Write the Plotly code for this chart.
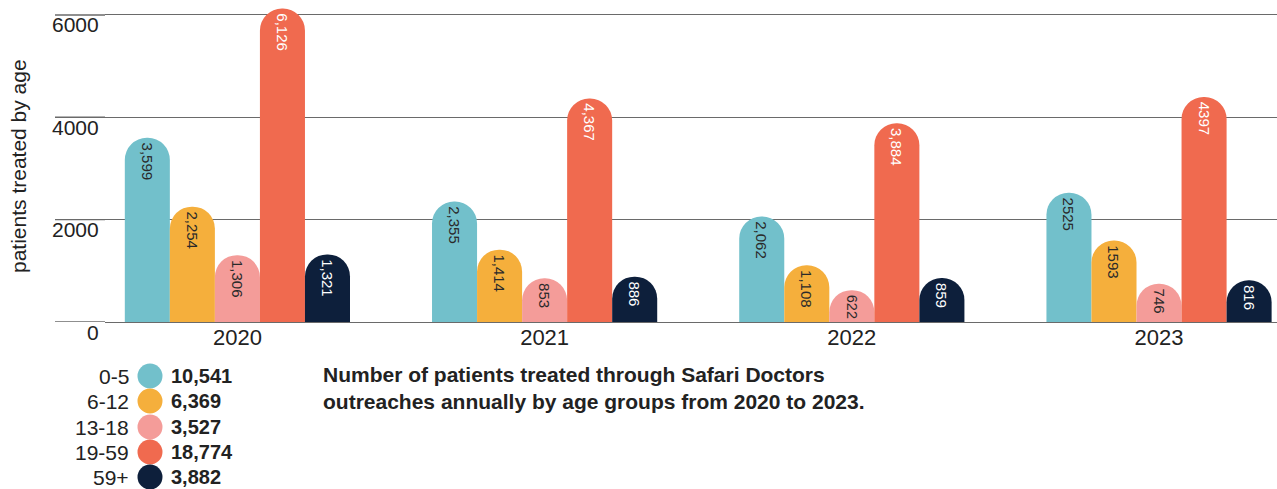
import plotly.graph_objects as go

# ---- data -------------------------------------------------------------
YEARS = ["2020", "2021", "2022", "2023"]
AGE_GROUPS = ["0-5", "6-12", "13-18", "19-59", "59+"]

AGE_0_5 = [3599, 2355, 2062, 2525]
AGE_6_12 = [2254, 1414, 1108, 1593]
AGE_13_18 = [1306, 853, 622, 746]
AGE_19_59 = [6126, 4367, 3884, 4397]
AGE_59_PLUS = [1321, 886, 859, 816]

# the 2023 labels in the source are printed without thousands separators
YEAR_USES_COMMAS = [True, True, True, False]

Y_TICKS = [0, 2000, 4000, 6000]

COLORS = ["#72C0CB", "#F5AF3C", "#F49C99", "#F06A4F", "#0D1F3B"]
TEXT_COLORS = ["#2a2a2a", "#2a2a2a", "#2a2a2a", "#ffffff", "#ffffff"]

CAPTION = ("Number of patients treated through Safari Doctors<br>"
           "outreaches annually by age groups from 2020 to 2023.")

FONT = "Liberation Sans, Arial, Helvetica, sans-serif"
INK = "#222222"
GRID = "#6a6a6a"

# ---- layout geometry (pixels) -----------------------------------------
W, H = 1277, 489
ML, MR, MT, MB = 105, 0, 5, 167
PW, PH = W - ML - MR, H - MT - MB


def px(x):
    return (x - ML) / PW


def py(y):
    return (H - MB - y) / PH


series = [AGE_0_5, AGE_6_12, AGE_13_18, AGE_19_59, AGE_59_PLUS]

fig = go.Figure()
for name, vals, color, tcolor in zip(AGE_GROUPS, series, COLORS, TEXT_COLORS):
    labels = [f"{v:,}" if c else str(v) for v, c in zip(vals, YEAR_USES_COMMAS)]
    fig.add_trace(
        go.Bar(
            x=YEARS,
            y=vals,
            name=name,
            text=labels,
            textposition="inside",
            insidetextanchor="end",
            textangle=90,
            constraintext="none",
            textfont=dict(color=tcolor, size=15, family=FONT),
            marker=dict(color=color, line=dict(width=0), cornerradius="50%"),
            showlegend=False,
            hoverinfo="skip",
        )
    )

# gridlines continue a little to the left of the plot area, with the
# tick labels sitting just under them
for v in Y_TICKS:
    fig.add_shape(
        type="line", xref="paper", yref="y",
        x0=px(55), x1=0, y0=v, y1=v,
        line=dict(color=GRID, width=1.4), layer="below",
    )
    fig.add_annotation(
        text=str(v), xref="paper", yref="y", x=px(101), y=v,
        xanchor="right", yanchor="middle", yshift=-10, showarrow=False,
        font=dict(size=21, color=INK, family=FONT),
    )

# y axis title
fig.add_annotation(
    text="patients treated by age", textangle=-90,
    xref="paper", yref="paper", x=px(19), y=py(166),
    xanchor="center", yanchor="middle",
    showarrow=False, font=dict(size=21, color=INK, family=FONT),
)

# custom legend with totals
row_y = [376, 401, 427, 452, 477]
for name, vals, color, ry in zip(AGE_GROUPS, series, COLORS, row_y):
    fig.add_annotation(
        text=name, xref="paper", yref="paper", x=px(131), y=py(ry),
        xanchor="right", yanchor="middle", showarrow=False,
        font=dict(size=21, color=INK, family=FONT),
    )
    fig.add_shape(
        type="circle", xref="paper", yref="paper",
        x0=px(137.5), x1=px(162.5), y0=py(ry + 12.5), y1=py(ry - 12.5),
        fillcolor=color, line=dict(width=0),
    )
    fig.add_annotation(
        text=f"<b>{sum(vals):,}</b>", xref="paper", yref="paper",
        x=px(169), y=py(ry), xanchor="left", yanchor="middle",
        showarrow=False, font=dict(size=20, color=INK, family=FONT),
    )

fig.add_annotation(
    text=f"<b>{CAPTION}</b>", xref="paper", yref="paper",
    x=px(321), y=py(388), xanchor="left", yanchor="middle", align="left",
    showarrow=False, font=dict(size=21, color=INK, family=FONT),
)

fig.update_xaxes(
    range=[-0.431, 3.384],
    showgrid=False, showline=False, ticks="",
    tickfont=dict(size=22, color=INK, family=FONT),
    ticklabelstandoff=0,
)
fig.update_yaxes(
    range=[0, 6195],
    tickvals=Y_TICKS, showticklabels=False,
    showgrid=True, gridcolor=GRID, gridwidth=1.4,
    zeroline=True, zerolinecolor=GRID, zerolinewidth=1.4,
    showline=False, ticks="",
)
fig.update_layout(
    width=W, height=H,
    barmode="group", bargap=0.267, bargroupgap=0,
    margin=dict(l=ML, r=MR, t=MT, b=MB),
    plot_bgcolor="white", paper_bgcolor="white",
    font=dict(family=FONT),
)

fig.write_html(
    "out.html",
    config={"displayModeBar": False},
    post_script="document.body.style.margin='0';",
)
